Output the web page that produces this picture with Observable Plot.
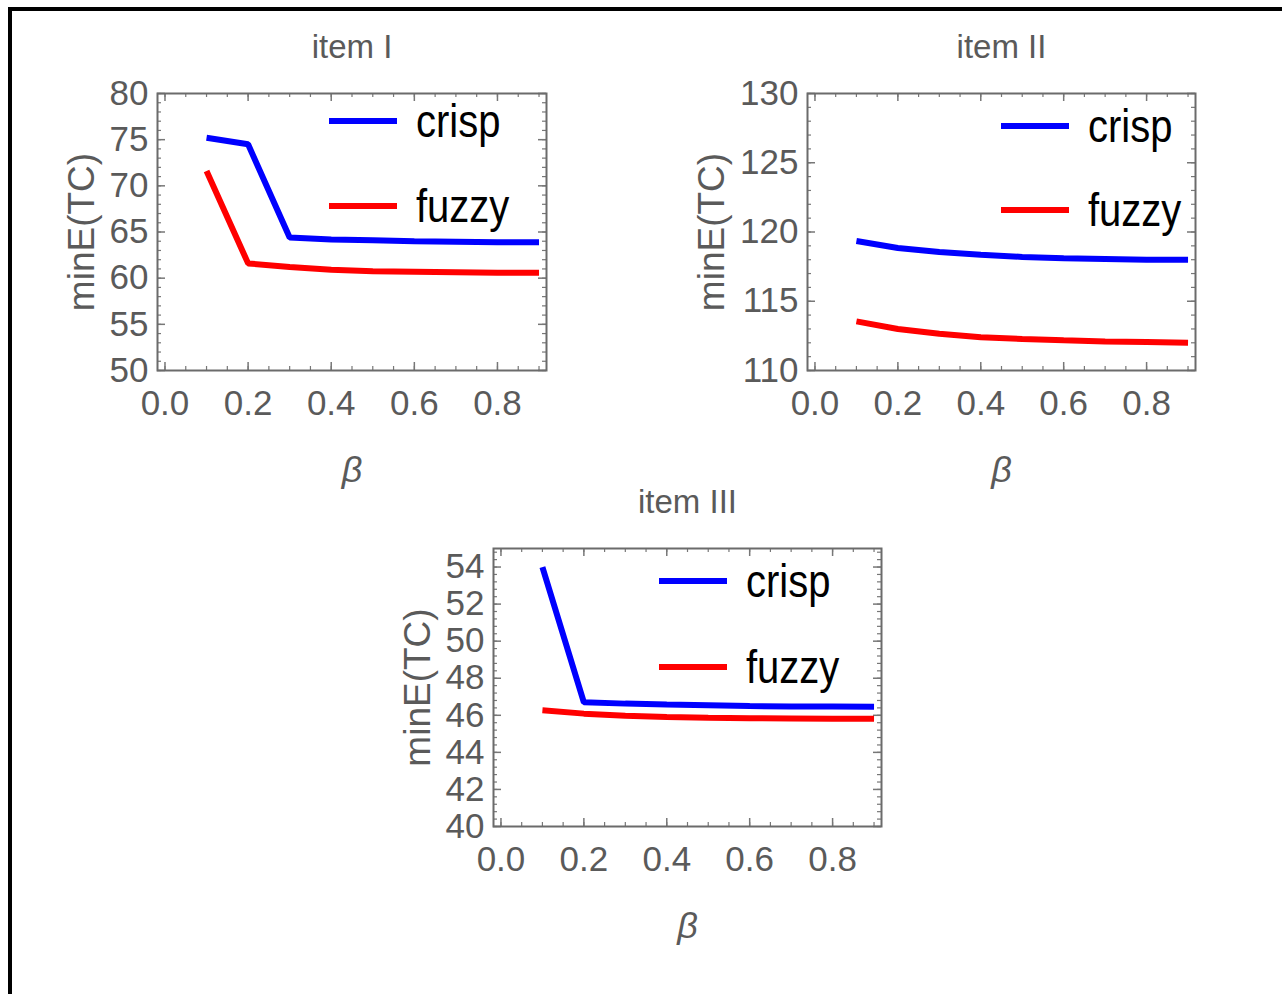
<!DOCTYPE html>
<html>
<head>
<meta charset="utf-8">
<script src="https://cdn.jsdelivr.net/npm/d3@7"></script>
<script src="https://cdn.jsdelivr.net/npm/@observablehq/plot@0.6"></script>
<style>
  html, body { margin: 0; padding: 0; background: #fff; }
  #page { position: relative; width: 1282px; height: 994px; overflow: hidden; background: #fff;
          font-family: "Liberation Sans", Arial, sans-serif; }
  #border { position: absolute; left: 8px; top: 7px; width: 1282px; height: 1000px;
            border-top: 4px solid #000; border-left: 4px solid #000; box-sizing: border-box; }
  .panel { position: absolute; }
  .panel svg text:not([transform]) { transform-box: fill-box; transform-origin: center; transform: scaleY(1.15); }
  .leg { position: absolute; display: flex; align-items: center; height: 46px; line-height: 46px;
         font-size: 40px; color: #000; white-space: nowrap; }
  .leg .lt { display: inline-block; transform: scaleY(1.15); transform-origin: center; }
  .sw { display: inline-block; width: 68px; height: 6px; margin-right: 19px; }
</style>
</head>
<body>
<div id="page"><div id="border"></div></div>
<script>
// ---- data ----
const beta = [0.1, 0.2, 0.3, 0.4, 0.5, 0.6, 0.7, 0.8, 0.9];
const seriesNames = ["crisp", "fuzzy"];
const seriesColors = ["#0000ff", "#ff0000"];

const item1Crisp = [75.2, 74.5, 64.4, 64.2, 64.1, 64.0, 63.95, 63.9, 63.9];
const item1Fuzzy = [71.6, 61.6, 61.2, 60.9, 60.75, 60.7, 60.65, 60.6, 60.6];

const item2Crisp = [119.35, 118.85, 118.55, 118.35, 118.2, 118.1, 118.05, 118.0, 118.0];
const item2Fuzzy = [113.55, 113.0, 112.65, 112.4, 112.28, 112.18, 112.1, 112.05, 112.0];

const item3Crisp = [54.0, 46.7, 46.63, 46.58, 46.54, 46.5, 46.48, 46.47, 46.46];
const item3Fuzzy = [46.27, 46.09, 45.98, 45.91, 45.87, 45.84, 45.83, 45.82, 45.82];

const titles = ["item I", "item II", "item III"];
const yLabel = "minE(TC)";
const xLabel = "β";

const xTicks = [0, 0.2, 0.4, 0.6, 0.8];
const y1Ticks = [50, 55, 60, 65, 70, 75, 80];
const y2Ticks = [110, 115, 120, 125, 130];
const y3Ticks = [40, 42, 44, 46, 48, 50, 52, 54];

// ---- helpers ----
const range = (a, b, s) => d3.range(Math.floor((b - a) / s + 1e-9) + 1).map(i => +(a + i * s).toFixed(6));

function panel(cfg) {
  const {title, crisp, fuzzy, yDomain, yTicks, yMinorStep, yMajorStep,
         left, top, width, height, mL, mR, mT, mB, yLabelDx, legend} = cfg;
  const fw = width - mL - mR, fh = height - mT - mB;
  const rows = [];
  beta.forEach((b, i) => rows.push({beta: b, v: crisp[i], s: "crisp"}));
  beta.forEach((b, i) => rows.push({beta: b, v: fuzzy[i], s: "fuzzy"}));
  const xMinor = range(0, 0.9, 0.05);
  const yMinor = range(yDomain[0], yDomain[1], yMinorStep);
  const yMajor = range(yDomain[0], yDomain[1], yMajorStep);
  const xMajor = range(0, 0.8, 0.2);
  const tickStroke = "#777";
  const chart = Plot.plot({
    width, height, marginLeft: mL, marginRight: mR, marginTop: mT, marginBottom: mB,
    x: {domain: [-0.018, 0.918]},
    y: {domain: yDomain},
    color: {domain: seriesNames, range: seriesColors},
    style: {fontFamily: '"Liberation Sans", Arial, sans-serif', color: "#5a5a5a", background: "none", overflow: "visible"},
    marks: [
      Plot.tickX(xMinor, {x: d => d, stroke: tickStroke, strokeWidth: 1.2, insetTop: fh - 4}),
      Plot.tickX(xMinor, {x: d => d, stroke: tickStroke, strokeWidth: 1.2, insetBottom: fh - 4}),
      Plot.tickX(xMajor, {x: d => d, stroke: tickStroke, strokeWidth: 1.5, insetTop: fh - 8}),
      Plot.tickX(xMajor, {x: d => d, stroke: tickStroke, strokeWidth: 1.5, insetBottom: fh - 8}),
      Plot.tickY(yMinor, {y: d => d, stroke: tickStroke, strokeWidth: 1.2, insetRight: fw - 4}),
      Plot.tickY(yMinor, {y: d => d, stroke: tickStroke, strokeWidth: 1.2, insetLeft: fw - 4}),
      Plot.tickY(yMajor, {y: d => d, stroke: tickStroke, strokeWidth: 1.5, insetRight: fw - 8}),
      Plot.tickY(yMajor, {y: d => d, stroke: tickStroke, strokeWidth: 1.5, insetLeft: fw - 8}),
      Plot.frame({stroke: "#6b6b6b", strokeWidth: 2}),
      Plot.axisX({ticks: xTicks, tickSize: 0, tickPadding: 20, fontSize: 35, label: null,
                  tickFormat: d3.format(".1f")}),
      Plot.axisY({ticks: yTicks, tickSize: 0, tickPadding: 9, fontSize: 35, label: null}),
      Plot.line(rows, {x: "beta", y: "v", z: "s", stroke: "s", strokeWidth: 6,
                       strokeLinecap: "butt", strokeLinejoin: "miter"}),
      Plot.text([title], {text: d => d, frameAnchor: "top", lineAnchor: "middle", dy: -46,
                          fontSize: 33, fill: "#5a5a5a"}),
      Plot.text([xLabel], {text: d => d, frameAnchor: "bottom", lineAnchor: "middle", dy: 100,
                           fontSize: 36, fontStyle: "italic", fill: "#5a5a5a"}),
      Plot.text([yLabel], {text: d => d, frameAnchor: "left", textAnchor: "middle", lineAnchor: "middle",
                           dx: yLabelDx, rotate: -90, fontSize: 37, fill: "#5a5a5a"})
    ]
  });
  const wrap = document.createElement("div");
  wrap.className = "panel";
  wrap.style.left = left + "px";
  wrap.style.top = top + "px";
  wrap.appendChild(chart);
  document.getElementById("page").appendChild(wrap);
  seriesNames.forEach((name, i) => {
    const d = document.createElement("div");
    d.className = "leg";
    d.style.left = legend.x + "px";
    d.style.top = (legend.y[i] - 23) + "px";
    const sw = document.createElement("span");
    sw.className = "sw";
    sw.style.background = seriesColors[i];
    const t = document.createElement("span");
    t.className = "lt";
    t.textContent = name;
    d.appendChild(sw); d.appendChild(t);
    document.getElementById("page").appendChild(d);
  });
}

panel({title: titles[0], crisp: item1Crisp, fuzzy: item1Fuzzy, yDomain: [50, 80], yTicks: y1Ticks,
       yMinorStep: 1, yMajorStep: 5,
       left: 0, top: 0, width: 640, height: 500, mL: 157, mR: 94, mT: 93, mB: 130, yLabelDx: -75,
       legend: {x: 329, y: [121, 206]}});
panel({title: titles[1], crisp: item2Crisp, fuzzy: item2Fuzzy, yDomain: [110, 130], yTicks: y2Ticks,
       yMinorStep: 1, yMajorStep: 5,
       left: 640, top: 0, width: 642, height: 500, mL: 167, mR: 87, mT: 93, mB: 130, yLabelDx: -95,
       legend: {x: 1001, y: [126, 210]}});
panel({title: titles[2], crisp: item3Crisp, fuzzy: item3Fuzzy, yDomain: [40, 55], yTicks: y3Ticks,
       yMinorStep: 0.4, yMajorStep: 2,
       left: 380, top: 470, width: 540, height: 524, mL: 113, mR: 39, mT: 78, mB: 168, yLabelDx: -75,
       legend: {x: 659, y: [581, 667]}});
</script>
</body>
</html>
